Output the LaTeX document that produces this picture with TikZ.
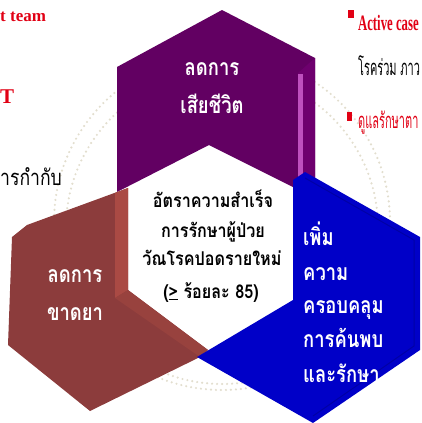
\documentclass[tikz,border=0pt]{standalone}
\usepackage{fontspec}
\setmainfont{Liberation Serif}
\newfontfamily\thai[Script=Thai,FakeStretch=0.8]{Loma}
\newfontfamily\thaic[Script=Thai,FakeStretch=0.85]{Loma}
\newfontfamily\thainarrow[Script=Thai,FakeStretch=0.5]{Loma}
\usetikzlibrary{calc}
\definecolor{purp}{RGB}{98,0,98}
\definecolor{purpside}{RGB}{110,0,110}
\definecolor{purphi}{RGB}{190,80,190}
\definecolor{brn}{RGB}{140,60,60}
\definecolor{brnhi}{RGB}{170,74,68}
\definecolor{brnmid}{RGB}{152,66,62}
\definecolor{blu}{RGB}{0,0,200}
\definecolor{bludark}{RGB}{0,0,165}
\definecolor{redtxt}{RGB}{225,0,20}
\definecolor{dotc}{RGB}{226,222,206}
\tikzset{
  wtxt/.style={text=white, font=\thai\bfseries\fontsize{23}{23}\selectfont, inner sep=0pt},
  ctxt/.style={text=black, font=\thaic\bfseries\fontsize{19}{19}\selectfont, inner sep=0pt},
  sidetxt/.style={inner sep=0pt, anchor=base west},
  dotring/.style={dotc, line width=2.4pt, dash pattern=on 0pt off 5pt, line cap=round}
}
\begin{document}
\begin{tikzpicture}[x=1pt,y=-1pt]
\useasboundingbox (0,0) rectangle (421,423);
\clip (0,0) rectangle (421,423);
% dotted rings
\draw[dotring] (222,222) circle[radius=168];
\draw[dotring] (222,228) circle[radius=156];
% purple
\fill[purp] (117,67) -- (222,10) -- (315,58) -- (315,180) -- (293,187) -- (209,145) -- (117,192) -- cycle;
\fill[purpside] (298,73) -- (315,58) -- (315,180) -- (298,186) -- cycle;
\fill[purphi] (298,74) rectangle (303,186);
% brown
\fill[brn] (128,188) -- (27,225) -- (12,237) -- (8,345) -- (90,411) -- (200,357) -- (208,350) -- (128,290) -- cycle;
\fill[brnhi] (115,193) -- (128,188) -- (128,290) -- (115,298) -- cycle;
\fill[brnmid] (115,298) -- (128,290) -- (208,350) -- (200,357) -- cycle;
% blue
\fill[blu] (293,180) -- (305,172) -- (420,237) -- (420,350) -- (313,423) -- (197,357) -- (293,300) -- cycle;
\draw[bludark, line width=1pt] (305,178) -- (414,240) -- (414,346) -- (313,416);
% labels in shapes
\node[wtxt, anchor=base] (p1) at (212,75) {ลดการ};
\node[wtxt, anchor=base] (p2) at (212,113) {เสียชีวิต};
\node[wtxt, anchor=base] (b1) at (75,282) {ลดการ};
\node[wtxt, anchor=base] (b2) at (75,320) {ขาดยา};
\node[wtxt, anchor=base west] (u1) at (303,245) {เพิ่ม};
\node[wtxt, anchor=base west] (u2) at (303,280) {ความ};
\node[wtxt, anchor=base west] (u3) at (303,313) {ครอบคลุม};
\node[wtxt, anchor=base west] (u4) at (303,347) {การค้นพบ};
\node[wtxt, anchor=base west] (u5) at (303,382) {และรักษา};
\node[ctxt, anchor=base] (c1) at (213,207) {อัตราความสำเร็จ};
\node[ctxt, anchor=base] (c2) at (213,237) {การรักษาผู้ป่วย};
\node[ctxt, anchor=base] (c3) at (212,265) {วัณโรคปอดรายใหม่};
\node[ctxt, anchor=base] (c4) at (211,298) {(\underline{>} ร้อยละ 85)};
% side texts
\node[sidetxt, text=redtxt, font=\bfseries\fontsize{17}{17}\selectfont] (l1) at (0,21) {t team};
\node[sidetxt, text=redtxt, font=\bfseries\fontsize{21}{21}\selectfont] (l2) at (0,103) {T};
\node[sidetxt, font=\thai\fontsize{22}{22}\selectfont] (l3) at (0,185) {ารกำกับ};
\fill[redtxt] (348,10) rectangle (354,18);
\fill[redtxt] (347,112) rectangle (352,121);
\node[sidetxt, text=redtxt, font=\bfseries\fontsize{22}{22}\selectfont, xscale=0.58] (r1) at (358,30) {Active case};
\node[sidetxt, font=\thainarrow\fontsize{22}{22}\selectfont] (r2) at (358,75) {โรคร่วม ภาว};
\node[sidetxt, text=redtxt, font=\thainarrow\fontsize{22}{22}\selectfont] (r3) at (358,128) {ดูแลรักษาตา};
\end{tikzpicture}
\end{document}
